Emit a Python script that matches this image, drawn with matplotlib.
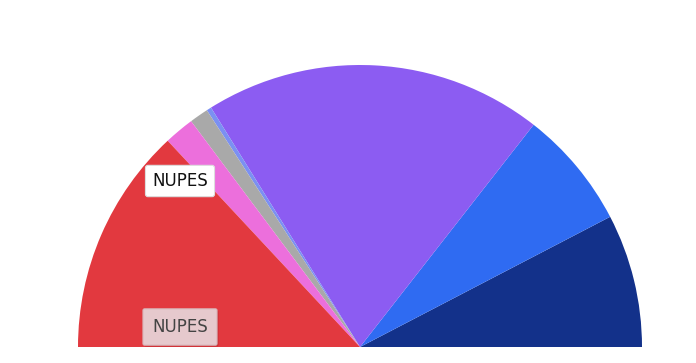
import matplotlib
matplotlib.use('Agg')
import matplotlib.pyplot as plt

# slice sizes in degrees of the half circle, left to right
values = [47.0, 6.2, 3.9, 1.0, 69.9, 24.5, 27.5]
colors = ['#e2393f', '#ec6fdc', '#a9a9a9', '#7b90f2', '#8c5cf2', '#2f6bf2', '#13318a']
label_text = 'NUPES'

fig = plt.figure(figsize=(6.96, 3.63), dpi=100)
ax = fig.add_axes([0, 0, 1, 1])

# pie drawn counterclockwise from 0 deg, so reverse the order;
# a blank slice fills the lower half
ax.pie(values[::-1] + [sum(values)], colors=colors[::-1] + ['none'],
       startangle=0, counterclock=True,
       center=(360, 16), radius=282,
       wedgeprops=dict(linewidth=0), frame=True)

ax.set_xlim(0, 696)
ax.set_ylim(0, 363)
ax.set_aspect('equal')
ax.axis('off')

ax.text(180, 363 - 181, label_text, ha='center', va='center', fontsize=12,
        color='#111111',
        bbox=dict(boxstyle='round,pad=0.4,rounding_size=0.15', fc='white',
                  ec='#dddddd', lw=0.8))
# shadow + box for the lower label
ax.text(181.5, 363 - 328.5, label_text, ha='center', va='center', fontsize=12,
        color='none',
        bbox=dict(boxstyle='round,pad=0.55,rounding_size=0.1', fc='#b02a30',
                  ec='none', alpha=0.5))
ax.text(180, 363 - 327, label_text, ha='center', va='center', fontsize=12,
        color='#444444',
        bbox=dict(boxstyle='round,pad=0.55,rounding_size=0.1', fc='#e6c9cd',
                  ec='#d9b5b9', lw=0.8))

fig.savefig('out.png', dpi=100)
